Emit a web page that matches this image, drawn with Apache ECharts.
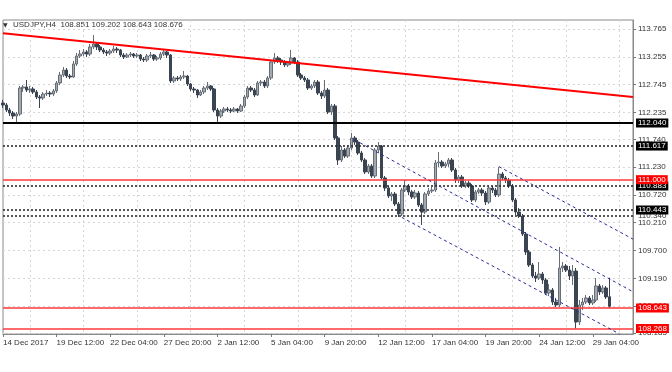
<!DOCTYPE html>
<html><head><meta charset="utf-8">
<script src="https://cdn.jsdelivr.net/npm/echarts@6/dist/echarts.min.js"></script>
<style>html,body{margin:0;padding:0;background:#fff}#c{width:672px;height:372px}</style>
</head><body><div id="c"></div>
<script>
const symbolName = 'USDJPY,H4';
const xTickLabels = ['14 Dec 2017','19 Dec 12:00','22 Dec 04:00','27 Dec 20:00','2 Jan 12:00','5 Jan 04:00','9 Jan 20:00','12 Jan 12:00','17 Jan 04:00','19 Jan 20:00','24 Jan 12:00','29 Jan 04:00'];
const yTicks = [113.765,113.255,112.745,112.235,111.740,111.230,110.720,110.210,109.700,109.190,108.680,108.185];
const barSlots = 189;
const labelEvery = 16;

const opens = [112.407,112.370,112.278,112.223,112.168,112.205,112.682,112.701,112.645,112.664,
112.609,112.517,112.499,112.572,112.590,112.572,112.627,112.774,112.921,113.012,
112.902,112.884,113.123,113.269,113.306,113.343,113.306,113.435,113.490,113.435,
113.379,113.343,113.324,113.361,113.398,113.379,113.288,113.251,113.288,113.306,
113.269,113.288,113.214,113.196,113.269,113.288,113.214,113.233,113.306,113.343,
113.288,112.811,112.866,112.847,112.884,112.902,112.756,112.664,112.645,112.554,
112.609,112.682,112.719,112.664,112.278,112.168,112.260,112.297,112.278,112.260,
112.297,112.260,112.352,112.517,112.682,112.645,112.554,112.774,112.792,112.719,
112.866,113.159,113.233,113.196,113.159,113.104,113.141,113.233,113.159,112.921,
112.866,112.829,112.682,112.719,112.792,112.590,112.535,112.645,112.242,112.352,
111.765,111.361,111.544,111.434,111.581,111.765,111.691,111.489,111.361,111.141,
111.251,111.067,111.544,111.618,111.031,110.847,110.700,110.737,110.554,110.370,
110.810,110.884,110.774,110.682,110.755,110.535,110.407,110.737,110.792,110.810,
111.306,111.324,111.251,111.288,111.361,111.177,110.994,111.049,110.884,110.939,
110.884,110.627,110.774,110.810,110.755,110.590,110.847,110.810,110.719,111.104,
111.031,110.994,110.884,110.627,110.407,110.333,110.003,109.673,109.434,109.232,
109.196,109.269,109.159,108.920,108.975,108.755,108.700,109.379,109.416,109.342,
109.232,109.324,108.388,108.700,108.755,108.829,108.737,108.792,109.049,108.939,
109.012,108.851];
const closes = [112.370,112.278,112.223,112.168,112.205,112.682,112.701,112.645,112.664,112.609,
112.517,112.499,112.572,112.590,112.572,112.627,112.774,112.921,113.012,112.902,
112.884,113.123,113.269,113.306,113.343,113.306,113.435,113.490,113.435,113.379,
113.343,113.324,113.361,113.398,113.379,113.288,113.251,113.288,113.306,113.269,
113.288,113.214,113.196,113.269,113.288,113.214,113.233,113.306,113.343,113.288,
112.811,112.866,112.847,112.884,112.902,112.756,112.664,112.645,112.554,112.609,
112.682,112.719,112.664,112.278,112.168,112.260,112.297,112.278,112.260,112.297,
112.260,112.352,112.517,112.682,112.645,112.554,112.774,112.792,112.719,112.866,
113.159,113.233,113.196,113.159,113.104,113.141,113.233,113.159,112.921,112.866,
112.829,112.682,112.719,112.792,112.590,112.535,112.645,112.242,112.352,111.765,
111.361,111.544,111.434,111.581,111.765,111.691,111.489,111.361,111.141,111.251,
111.067,111.544,111.618,111.031,110.847,110.700,110.737,110.554,110.370,110.810,
110.884,110.774,110.682,110.755,110.535,110.407,110.737,110.792,110.810,111.306,
111.324,111.251,111.288,111.361,111.177,110.994,111.049,110.884,110.939,110.884,
110.627,110.774,110.810,110.755,110.590,110.847,110.810,110.719,111.104,111.031,
110.994,110.884,110.627,110.407,110.333,110.003,109.673,109.434,109.232,109.196,
109.269,109.159,108.920,108.975,108.755,108.700,109.379,109.416,109.342,109.232,
109.324,108.388,108.700,108.755,108.829,108.737,108.792,109.049,108.939,109.012,
108.847,108.676];
const lows = [112.315,112.242,112.168,112.113,112.040,112.168,112.609,112.609,112.590,112.572,
112.480,112.315,112.462,112.535,112.517,112.535,112.590,112.737,112.884,112.866,
112.847,112.866,113.086,113.233,113.269,113.251,113.269,113.398,113.379,113.343,
113.306,113.269,113.288,113.324,113.324,113.251,113.214,113.233,113.251,113.233,
113.233,113.178,113.159,113.159,113.233,113.178,113.178,113.196,113.269,113.233,
112.774,112.774,112.811,112.811,112.847,112.719,112.627,112.590,112.499,112.535,
112.572,112.645,112.627,112.242,112.058,112.132,112.223,112.242,112.223,112.242,
112.223,112.242,112.315,112.480,112.609,112.517,112.535,112.719,112.682,112.682,
112.829,113.123,113.141,113.104,113.068,113.068,113.104,113.123,112.884,112.829,
112.792,112.645,112.645,112.682,112.554,112.480,112.499,112.205,112.187,111.728,
111.269,111.324,111.398,111.398,111.544,111.636,111.453,111.324,111.104,111.104,
111.031,111.031,111.489,110.994,110.792,110.664,110.609,110.517,110.315,110.333,
110.774,110.719,110.645,110.645,110.499,110.168,110.370,110.700,110.755,110.774,
111.233,111.214,111.214,111.233,111.141,110.939,110.939,110.847,110.847,110.847,
110.590,110.590,110.737,110.700,110.535,110.554,110.755,110.682,110.682,110.994,
110.939,110.847,110.590,110.352,110.297,109.966,109.618,109.398,109.196,109.122,
109.159,109.086,108.884,108.865,108.700,108.664,108.664,109.306,109.306,109.159,
109.067,108.268,108.333,108.608,108.719,108.700,108.700,108.755,108.884,108.902,
108.810,108.643];
const highs = [112.462,112.407,112.315,112.260,112.242,112.719,112.737,112.829,112.719,112.701,
112.645,112.554,112.609,112.645,112.627,112.664,112.811,112.976,113.068,113.049,
112.939,113.178,113.324,113.379,113.398,113.379,113.490,113.655,113.526,113.471,
113.416,113.379,113.398,113.453,113.435,113.398,113.324,113.324,113.343,113.324,
113.324,113.306,113.251,113.306,113.343,113.306,113.269,113.343,113.398,113.361,
113.306,112.902,112.902,112.921,112.994,112.921,112.774,112.701,112.664,112.645,
112.719,112.792,112.737,112.682,112.315,112.297,112.334,112.334,112.315,112.334,
112.315,112.389,112.554,112.719,112.719,112.682,112.811,112.829,112.829,112.902,
113.196,113.324,113.269,113.233,113.196,113.178,113.379,113.251,113.196,112.957,
112.902,112.866,112.756,112.829,112.829,112.627,112.829,112.682,112.389,112.389,
111.801,111.618,111.581,111.636,111.856,111.801,111.728,111.526,111.398,111.288,
111.288,111.581,111.691,111.636,111.067,110.884,110.774,110.774,110.590,110.847,
110.994,110.921,110.810,110.810,110.792,110.572,110.774,110.847,110.866,111.361,
111.508,111.361,111.324,111.398,111.398,111.214,111.086,111.086,110.976,110.976,
110.921,110.810,110.847,110.847,110.792,110.884,110.884,110.847,111.233,111.141,
111.067,111.031,110.921,110.664,110.480,110.370,110.040,109.709,109.471,109.306,
109.489,109.306,109.196,109.086,109.012,108.829,109.765,109.489,109.453,109.416,
109.434,109.379,108.792,108.829,108.884,108.865,108.884,109.196,109.086,109.067,
109.049,109.202];

const solidBlackLevels = [112.040];
const dottedLevels = [111.617, 110.883, 110.443];
const hiddenDottedLevels = [110.340];
const redLevels = [111.000, 108.643, 108.268];
const trendLine = [[0, 113.688], [188, 112.517]];
const channelLines = [
  [[105, 111.728], [188, 108.943]],
  [[119, 110.308], [184, 108.168]],
  [[148, 111.240], [188, 109.909]]
];

const FONT = 'Liberation Sans';
const categories = Array.from({length: barSlots}, (_, i) => String(i));
const candles = opens.map((o, i) => [o, closes[i], lows[i], highs[i]]);
const last = opens.length - 1;
const header = symbolName + '  ' + [opens[last], highs[last], lows[last], closes[last]].map(v => v.toFixed(3)).join(' ');

function boxLabel(v, bg) {
  return {show: true, position: 'end', distance: 3, formatter: () => v.toFixed(3),
    color: '#fff', backgroundColor: bg, padding: [1, 2, 0, 2], fontSize: 8, fontFamily: FONT};
}
const mlData = [];
hiddenDottedLevels.forEach(v => mlData.push({yAxis: v, lineStyle: {color: '#222', width: 1.5, type: [2, 2]},
  label: {show: true, position: 'end', distance: 5, formatter: () => v.toFixed(3), color: '#333', fontSize: 8, fontFamily: FONT}}));
dottedLevels.forEach(v => mlData.push({yAxis: v, lineStyle: {color: '#222', width: 1.5, type: [2, 2]}, label: boxLabel(v, '#000')}));
redLevels.forEach(v => mlData.push({yAxis: v, lineStyle: {color: '#ff3a3a', width: 1.5, type: 'solid'}, label: boxLabel(v, '#ff0000')}));
solidBlackLevels.forEach(v => mlData.push({yAxis: v, lineStyle: {color: '#000', width: 2, type: 'solid'}, label: boxLabel(v, '#000')}));
mlData.push([{coord: trendLine[0], lineStyle: {color: '#ff0000', width: 2, type: 'solid'}, label: {show: false}}, {coord: trendLine[1]}]);
channelLines.forEach(seg => mlData.push([{coord: seg[0], lineStyle: {color: '#2b2b9c', width: 1, type: [3, 3]}, label: {show: false}}, {coord: seg[1]}]));

const chart = echarts.init(document.getElementById('c'), null, {renderer: 'canvas'});
chart.setOption({
  animation: false,
  backgroundColor: '#fff',
  textStyle: {fontFamily: FONT},
  grid: {left: 2, right: 39, top: 20, bottom: 38, show: true, borderColor: '#8a8a8a', borderWidth: 1, containLabel: false},
  xAxis: {
    type: 'category', data: categories, boundaryGap: false,
    axisLine: {show: true, lineStyle: {color: '#8a8a8a'}},
    axisTick: {show: true, length: 3, interval: i => i % labelEvery === 0, lineStyle: {color: '#777'}},
    axisLabel: {show: true, interval: i => i % labelEvery === 0, align: 'left', margin: 5, fontSize: 8, color: '#333', fontFamily: FONT,
      formatter: (v, i) => xTickLabels[Math.round(i / labelEvery)] || ''},
    splitLine: {show: true, interval: i => i % labelEvery === 8, lineStyle: {color: '#d6d6d6', type: [2, 3]}}
  },
  yAxis: {
    type: 'value', position: 'right', min: 108.168, max: 113.930, scale: true,
    axisLine: {show: true, lineStyle: {color: '#8a8a8a'}},
    axisTick: {show: true, length: 3, customValues: yTicks, lineStyle: {color: '#777'}},
    axisLabel: {show: true, customValues: yTicks, margin: 5, fontSize: 8, color: '#333', fontFamily: FONT, formatter: v => v.toFixed(3)},
    splitLine: {show: true, lineStyle: {color: '#d6d6d6', type: [2, 3]}}
  },
  series: [{
    type: 'candlestick', data: candles, barWidth: 3,
    itemStyle: {color: '#a4a9af', color0: '#3b4451', borderColor: '#656d77', borderColor0: '#3b4451', borderWidth: 1},
    markLine: {silent: true, symbol: ['none', 'none'], animation: false, precision: 3, data: mlData}
  }],
  graphic: [
    {type: 'text', left: 3, top: 22, style: {text: '▼', fontSize: 6, fill: '#333', fontFamily: 'DejaVu Sans'}},
    {type: 'text', left: 13, top: 21, style: {text: header, fontSize: 8, fill: '#333', fontFamily: FONT}}
  ]
});
</script></body></html>
